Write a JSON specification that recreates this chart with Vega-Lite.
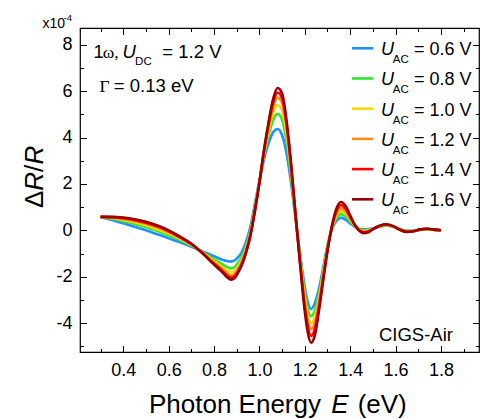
{
"$schema":"https://vega.github.io/schema/vega-lite/v6.json",
"width":399,"height":324,
"autosize":{"type":"none"},
"padding":{"left":80,"top":28,"right":1,"bottom":67},
"config":{"view":{"stroke":"#000","strokeWidth":1.2},"font":"Liberation Sans","text":{"font":"Liberation Sans","color":"#000"}},
"datasets":{
"curves":[
{"s":"0.6","x":0.3,"y":0.57},{"s":"0.6","x":0.35,"y":0.45},{"s":"0.6","x":0.4,"y":0.3},{"s":"0.6","x":0.45,"y":0.15},{"s":"0.6","x":0.5,"y":0},{"s":"0.6","x":0.55,"y":-0.17},{"s":"0.6","x":0.6,"y":-0.34},{"s":"0.6","x":0.65,"y":-0.52},{"s":"0.6","x":0.7,"y":-0.71},{"s":"0.6","x":0.75,"y":-0.91},{"s":"0.6","x":0.8,"y":-1.12},{"s":"0.6","x":0.84,"y":-1.28},{"s":"0.6","x":0.86,"y":-1.33},{"s":"0.6","x":0.875,"y":-1.35},{"s":"0.6","x":0.89,"y":-1.3},{"s":"0.6","x":0.9,"y":-1.22},{"s":"0.6","x":0.92,"y":-0.98},{"s":"0.6","x":0.94,"y":-0.52},{"s":"0.6","x":0.96,"y":0.15},{"s":"0.6","x":0.98,"y":1.15},{"s":"0.6","x":1.0,"y":2.15},{"s":"0.6","x":1.02,"y":3.05},{"s":"0.6","x":1.04,"y":3.75},{"s":"0.6","x":1.06,"y":4.22},{"s":"0.6","x":1.08,"y":4.37},{"s":"0.6","x":1.1,"y":4.1},{"s":"0.6","x":1.12,"y":3.3},{"s":"0.6","x":1.14,"y":2.0},{"s":"0.6","x":1.16,"y":0.45},{"s":"0.6","x":1.18,"y":-1.1},{"s":"0.6","x":1.2,"y":-2.45},{"s":"0.6","x":1.212,"y":-3.05},{"s":"0.6","x":1.228,"y":-3.4},{"s":"0.6","x":1.245,"y":-3.12},{"s":"0.6","x":1.265,"y":-2.4},{"s":"0.6","x":1.285,"y":-1.4},{"s":"0.6","x":1.3,"y":-0.65},{"s":"0.6","x":1.32,"y":0.05},{"s":"0.6","x":1.34,"y":0.42},{"s":"0.6","x":1.36,"y":0.55},{"s":"0.6","x":1.38,"y":0.46},{"s":"0.6","x":1.4,"y":0.3},{"s":"0.6","x":1.42,"y":0.16},{"s":"0.6","x":1.44,"y":0.07},{"s":"0.6","x":1.46,"y":0.04},{"s":"0.6","x":1.48,"y":0.05},{"s":"0.6","x":1.5,"y":0.09},{"s":"0.6","x":1.53,"y":0.16},{"s":"0.6","x":1.56,"y":0.2},{"s":"0.6","x":1.59,"y":0.15},{"s":"0.6","x":1.62,"y":0.05},{"s":"0.6","x":1.65,"y":-0.02},{"s":"0.6","x":1.68,"y":-0.02},{"s":"0.6","x":1.71,"y":0.03},{"s":"0.6","x":1.74,"y":0.05},{"s":"0.6","x":1.77,"y":0.02},{"s":"0.6","x":1.8,"y":0},
{"s":"0.8","x":0.3,"y":0.57},{"s":"0.8","x":0.35,"y":0.5},{"s":"0.8","x":0.4,"y":0.39},{"s":"0.8","x":0.45,"y":0.27},{"s":"0.8","x":0.5,"y":0.14},{"s":"0.8","x":0.55,"y":-0.03},{"s":"0.8","x":0.6,"y":-0.21},{"s":"0.8","x":0.65,"y":-0.43},{"s":"0.8","x":0.7,"y":-0.66},{"s":"0.8","x":0.75,"y":-0.94},{"s":"0.8","x":0.8,"y":-1.25},{"s":"0.8","x":0.84,"y":-1.49},{"s":"0.8","x":0.86,"y":-1.6},{"s":"0.8","x":0.875,"y":-1.64},{"s":"0.8","x":0.89,"y":-1.59},{"s":"0.8","x":0.9,"y":-1.48},{"s":"0.8","x":0.92,"y":-1.19},{"s":"0.8","x":0.94,"y":-0.7},{"s":"0.8","x":0.96,"y":0},{"s":"0.8","x":0.98,"y":1.03},{"s":"0.8","x":1.0,"y":2.11},{"s":"0.8","x":1.02,"y":3.2},{"s":"0.8","x":1.04,"y":4.08},{"s":"0.8","x":1.06,"y":4.75},{"s":"0.8","x":1.08,"y":5.03},{"s":"0.8","x":1.1,"y":4.77},{"s":"0.8","x":1.12,"y":3.82},{"s":"0.8","x":1.14,"y":2.26},{"s":"0.8","x":1.16,"y":0.5},{"s":"0.8","x":1.18,"y":-1.2},{"s":"0.8","x":1.2,"y":-2.68},{"s":"0.8","x":1.212,"y":-3.34},{"s":"0.8","x":1.228,"y":-3.72},{"s":"0.8","x":1.245,"y":-3.42},{"s":"0.8","x":1.265,"y":-2.6},{"s":"0.8","x":1.285,"y":-1.51},{"s":"0.8","x":1.3,"y":-0.71},{"s":"0.8","x":1.32,"y":0.08},{"s":"0.8","x":1.34,"y":0.54},{"s":"0.8","x":1.36,"y":0.7},{"s":"0.8","x":1.38,"y":0.59},{"s":"0.8","x":1.4,"y":0.38},{"s":"0.8","x":1.42,"y":0.18},{"s":"0.8","x":1.44,"y":0.05},{"s":"0.8","x":1.46,"y":0},{"s":"0.8","x":1.48,"y":0.02},{"s":"0.8","x":1.5,"y":0.08},{"s":"0.8","x":1.53,"y":0.17},{"s":"0.8","x":1.56,"y":0.21},{"s":"0.8","x":1.59,"y":0.16},{"s":"0.8","x":1.62,"y":0.04},{"s":"0.8","x":1.65,"y":-0.03},{"s":"0.8","x":1.68,"y":-0.02},{"s":"0.8","x":1.71,"y":0.03},{"s":"0.8","x":1.74,"y":0.05},{"s":"0.8","x":1.77,"y":0.02},{"s":"0.8","x":1.8,"y":0},
{"s":"1.0","x":0.3,"y":0.58},{"s":"1.0","x":0.35,"y":0.53},{"s":"1.0","x":0.4,"y":0.45},{"s":"1.0","x":0.45,"y":0.35},{"s":"1.0","x":0.5,"y":0.22},{"s":"1.0","x":0.55,"y":0.05},{"s":"1.0","x":0.6,"y":-0.14},{"s":"1.0","x":0.65,"y":-0.37},{"s":"1.0","x":0.7,"y":-0.63},{"s":"1.0","x":0.75,"y":-0.96},{"s":"1.0","x":0.8,"y":-1.33},{"s":"1.0","x":0.84,"y":-1.61},{"s":"1.0","x":0.86,"y":-1.76},{"s":"1.0","x":0.875,"y":-1.81},{"s":"1.0","x":0.89,"y":-1.75},{"s":"1.0","x":0.9,"y":-1.64},{"s":"1.0","x":0.92,"y":-1.32},{"s":"1.0","x":0.94,"y":-0.8},{"s":"1.0","x":0.96,"y":-0.09},{"s":"1.0","x":0.98,"y":0.96},{"s":"1.0","x":1.0,"y":2.09},{"s":"1.0","x":1.02,"y":3.29},{"s":"1.0","x":1.04,"y":4.28},{"s":"1.0","x":1.06,"y":5.06},{"s":"1.0","x":1.08,"y":5.41},{"s":"1.0","x":1.1,"y":5.16},{"s":"1.0","x":1.12,"y":4.13},{"s":"1.0","x":1.14,"y":2.43},{"s":"1.0","x":1.16,"y":0.53},{"s":"1.0","x":1.18,"y":-1.29},{"s":"1.0","x":1.2,"y":-2.89},{"s":"1.0","x":1.212,"y":-3.6},{"s":"1.0","x":1.228,"y":-4.01},{"s":"1.0","x":1.245,"y":-3.7},{"s":"1.0","x":1.265,"y":-2.78},{"s":"1.0","x":1.285,"y":-1.61},{"s":"1.0","x":1.3,"y":-0.76},{"s":"1.0","x":1.32,"y":0.11},{"s":"1.0","x":1.34,"y":0.64},{"s":"1.0","x":1.36,"y":0.83},{"s":"1.0","x":1.38,"y":0.71},{"s":"1.0","x":1.4,"y":0.45},{"s":"1.0","x":1.42,"y":0.2},{"s":"1.0","x":1.44,"y":0.03},{"s":"1.0","x":1.46,"y":-0.03},{"s":"1.0","x":1.48,"y":0},{"s":"1.0","x":1.5,"y":0.07},{"s":"1.0","x":1.53,"y":0.18},{"s":"1.0","x":1.56,"y":0.23},{"s":"1.0","x":1.59,"y":0.16},{"s":"1.0","x":1.62,"y":0.04},{"s":"1.0","x":1.65,"y":-0.04},{"s":"1.0","x":1.68,"y":-0.03},{"s":"1.0","x":1.71,"y":0.03},{"s":"1.0","x":1.74,"y":0.06},{"s":"1.0","x":1.77,"y":0.02},{"s":"1.0","x":1.8,"y":0},
{"s":"1.2","x":0.3,"y":0.58},{"s":"1.2","x":0.35,"y":0.55},{"s":"1.2","x":0.4,"y":0.49},{"s":"1.2","x":0.45,"y":0.4},{"s":"1.2","x":0.5,"y":0.28},{"s":"1.2","x":0.55,"y":0.12},{"s":"1.2","x":0.6,"y":-0.08},{"s":"1.2","x":0.65,"y":-0.33},{"s":"1.2","x":0.7,"y":-0.61},{"s":"1.2","x":0.75,"y":-0.98},{"s":"1.2","x":0.8,"y":-1.4},{"s":"1.2","x":0.84,"y":-1.71},{"s":"1.2","x":0.86,"y":-1.88},{"s":"1.2","x":0.875,"y":-1.95},{"s":"1.2","x":0.89,"y":-1.89},{"s":"1.2","x":0.9,"y":-1.77},{"s":"1.2","x":0.92,"y":-1.42},{"s":"1.2","x":0.94,"y":-0.89},{"s":"1.2","x":0.96,"y":-0.16},{"s":"1.2","x":0.98,"y":0.9},{"s":"1.2","x":1.0,"y":2.07},{"s":"1.2","x":1.02,"y":3.36},{"s":"1.2","x":1.04,"y":4.44},{"s":"1.2","x":1.06,"y":5.32},{"s":"1.2","x":1.08,"y":5.73},{"s":"1.2","x":1.1,"y":5.49},{"s":"1.2","x":1.12,"y":4.38},{"s":"1.2","x":1.14,"y":2.59},{"s":"1.2","x":1.16,"y":0.55},{"s":"1.2","x":1.18,"y":-1.37},{"s":"1.2","x":1.2,"y":-3.09},{"s":"1.2","x":1.212,"y":-3.84},{"s":"1.2","x":1.228,"y":-4.28},{"s":"1.2","x":1.245,"y":-3.96},{"s":"1.2","x":1.265,"y":-2.95},{"s":"1.2","x":1.285,"y":-1.71},{"s":"1.2","x":1.3,"y":-0.8},{"s":"1.2","x":1.32,"y":0.14},{"s":"1.2","x":1.34,"y":0.74},{"s":"1.2","x":1.36,"y":0.96},{"s":"1.2","x":1.38,"y":0.82},{"s":"1.2","x":1.4,"y":0.51},{"s":"1.2","x":1.42,"y":0.21},{"s":"1.2","x":1.44,"y":0.02},{"s":"1.2","x":1.46,"y":-0.06},{"s":"1.2","x":1.48,"y":-0.03},{"s":"1.2","x":1.5,"y":0.06},{"s":"1.2","x":1.53,"y":0.18},{"s":"1.2","x":1.56,"y":0.24},{"s":"1.2","x":1.59,"y":0.17},{"s":"1.2","x":1.62,"y":0.03},{"s":"1.2","x":1.65,"y":-0.05},{"s":"1.2","x":1.68,"y":-0.03},{"s":"1.2","x":1.71,"y":0.04},{"s":"1.2","x":1.74,"y":0.06},{"s":"1.2","x":1.77,"y":0.03},{"s":"1.2","x":1.8,"y":0},
{"s":"1.4","x":0.3,"y":0.58},{"s":"1.4","x":0.35,"y":0.57},{"s":"1.4","x":0.4,"y":0.52},{"s":"1.4","x":0.45,"y":0.44},{"s":"1.4","x":0.5,"y":0.33},{"s":"1.4","x":0.55,"y":0.17},{"s":"1.4","x":0.6,"y":-0.04},{"s":"1.4","x":0.65,"y":-0.3},{"s":"1.4","x":0.7,"y":-0.59},{"s":"1.4","x":0.75,"y":-0.99},{"s":"1.4","x":0.8,"y":-1.44},{"s":"1.4","x":0.84,"y":-1.78},{"s":"1.4","x":0.86,"y":-1.97},{"s":"1.4","x":0.875,"y":-2.04},{"s":"1.4","x":0.89,"y":-1.99},{"s":"1.4","x":0.9,"y":-1.85},{"s":"1.4","x":0.92,"y":-1.49},{"s":"1.4","x":0.94,"y":-0.95},{"s":"1.4","x":0.96,"y":-0.21},{"s":"1.4","x":0.98,"y":0.86},{"s":"1.4","x":1.0,"y":2.06},{"s":"1.4","x":1.02,"y":3.41},{"s":"1.4","x":1.04,"y":4.55},{"s":"1.4","x":1.06,"y":5.49},{"s":"1.4","x":1.08,"y":5.95},{"s":"1.4","x":1.1,"y":5.7},{"s":"1.4","x":1.12,"y":4.55},{"s":"1.4","x":1.14,"y":2.72},{"s":"1.4","x":1.16,"y":0.58},{"s":"1.4","x":1.18,"y":-1.46},{"s":"1.4","x":1.2,"y":-3.29},{"s":"1.4","x":1.212,"y":-4.09},{"s":"1.4","x":1.228,"y":-4.56},{"s":"1.4","x":1.245,"y":-4.22},{"s":"1.4","x":1.265,"y":-3.12},{"s":"1.4","x":1.285,"y":-1.8},{"s":"1.4","x":1.3,"y":-0.85},{"s":"1.4","x":1.32,"y":0.17},{"s":"1.4","x":1.34,"y":0.84},{"s":"1.4","x":1.36,"y":1.09},{"s":"1.4","x":1.38,"y":0.93},{"s":"1.4","x":1.4,"y":0.58},{"s":"1.4","x":1.42,"y":0.23},{"s":"1.4","x":1.44,"y":0},{"s":"1.4","x":1.46,"y":-0.09},{"s":"1.4","x":1.48,"y":-0.05},{"s":"1.4","x":1.5,"y":0.05},{"s":"1.4","x":1.53,"y":0.19},{"s":"1.4","x":1.56,"y":0.25},{"s":"1.4","x":1.59,"y":0.17},{"s":"1.4","x":1.62,"y":0.03},{"s":"1.4","x":1.65,"y":-0.06},{"s":"1.4","x":1.68,"y":-0.04},{"s":"1.4","x":1.71,"y":0.04},{"s":"1.4","x":1.74,"y":0.07},{"s":"1.4","x":1.77,"y":0.03},{"s":"1.4","x":1.8,"y":0},
{"s":"1.6","x":0.3,"y":0.58},{"s":"1.6","x":0.35,"y":0.58},{"s":"1.6","x":0.4,"y":0.55},{"s":"1.6","x":0.45,"y":0.48},{"s":"1.6","x":0.5,"y":0.37},{"s":"1.6","x":0.55,"y":0.21},{"s":"1.6","x":0.6,"y":0},{"s":"1.6","x":0.65,"y":-0.27},{"s":"1.6","x":0.7,"y":-0.58},{"s":"1.6","x":0.75,"y":-1.0},{"s":"1.6","x":0.8,"y":-1.48},{"s":"1.6","x":0.84,"y":-1.84},{"s":"1.6","x":0.86,"y":-2.05},{"s":"1.6","x":0.875,"y":-2.13},{"s":"1.6","x":0.89,"y":-2.07},{"s":"1.6","x":0.9,"y":-1.93},{"s":"1.6","x":0.92,"y":-1.55},{"s":"1.6","x":0.94,"y":-1.0},{"s":"1.6","x":0.96,"y":-0.25},{"s":"1.6","x":0.98,"y":0.82},{"s":"1.6","x":1.0,"y":2.05},{"s":"1.6","x":1.02,"y":3.45},{"s":"1.6","x":1.04,"y":4.65},{"s":"1.6","x":1.06,"y":5.65},{"s":"1.6","x":1.08,"y":6.14},{"s":"1.6","x":1.1,"y":5.9},{"s":"1.6","x":1.12,"y":4.7},{"s":"1.6","x":1.14,"y":2.85},{"s":"1.6","x":1.16,"y":0.6},{"s":"1.6","x":1.18,"y":-1.55},{"s":"1.6","x":1.2,"y":-3.5},{"s":"1.6","x":1.212,"y":-4.35},{"s":"1.6","x":1.228,"y":-4.85},{"s":"1.6","x":1.245,"y":-4.5},{"s":"1.6","x":1.265,"y":-3.3},{"s":"1.6","x":1.285,"y":-1.9},{"s":"1.6","x":1.3,"y":-0.9},{"s":"1.6","x":1.32,"y":0.2},{"s":"1.6","x":1.34,"y":0.95},{"s":"1.6","x":1.36,"y":1.22},{"s":"1.6","x":1.38,"y":1.05},{"s":"1.6","x":1.4,"y":0.65},{"s":"1.6","x":1.42,"y":0.25},{"s":"1.6","x":1.44,"y":-0.02},{"s":"1.6","x":1.46,"y":-0.12},{"s":"1.6","x":1.48,"y":-0.08},{"s":"1.6","x":1.5,"y":0.04},{"s":"1.6","x":1.53,"y":0.2},{"s":"1.6","x":1.56,"y":0.26},{"s":"1.6","x":1.59,"y":0.18},{"s":"1.6","x":1.62,"y":0.02},{"s":"1.6","x":1.65,"y":-0.07},{"s":"1.6","x":1.68,"y":-0.04},{"s":"1.6","x":1.71,"y":0.04},{"s":"1.6","x":1.74,"y":0.07},{"s":"1.6","x":1.77,"y":0.03},{"s":"1.6","x":1.8,"y":0}
],
"leg":[{"s":"0.6","t":"= 0.6 V","y":7.855},{"s":"0.8","t":"= 0.8 V","y":6.552},{"s":"1.0","t":"= 1.0 V","y":5.248},{"s":"1.2","t":"= 1.2 V","y":3.945},{"s":"1.4","t":"= 1.4 V","y":2.641},{"s":"1.6","t":"= 1.6 V","y":1.338}]
},
"layer":[
{"data":{"name":"curves"},
 "mark":{"type":"line","strokeWidth":2.6,"interpolate":"monotone"},
 "encoding":{
  "x":{"field":"x","type":"quantitative","scale":{"domain":[0.209,1.968],"nice":false,"zero":false},
       "axis":{"orient":"bottom","values":[0.4,0.6,0.8,1.0,1.2,1.4,1.6,1.8],"format":".1f","ticks":false,"domain":false,"grid":false,"labelFontSize":18,"labelPadding":9,"labelColor":"#000","labelFont":"Liberation Sans","labelFlush":false,"labelOverlap":false,"title":null}},
  "y":{"field":"y","type":"quantitative","scale":{"domain":[-5.25,8.73],"nice":false,"zero":false},
       "axis":{"orient":"left","values":[-4,-2,0,2,4,6,8],"labelExpr":"datum.value < 0 ? '-' + abs(datum.value) : '' + datum.value","ticks":false,"domain":false,"grid":false,"labelFontSize":18,"labelPadding":8,"labelColor":"#000","labelFont":"Liberation Sans","labelFlush":false,"labelOverlap":false,"title":null}},
  "color":{"field":"s","type":"nominal","scale":{"domain":["0.6","0.8","1.0","1.2","1.4","1.6"],"range":["#1E90FF","#2EE62E","#FFD700","#FF8C1A","#FF0000","#9B0000"]},"legend":null}
 }},
{"data":{"values":[{"t":"1","x":0.268,"y":7.415},{"t":"= 1.2 V","x":0.572,"y":7.415},{"t":"= 0.13 eV","x":0.358,"y":5.982},{"t":"CIGS-Air","x":1.527,"y":-4.765}]},
 "mark":{"type":"text","fontSize":18.5,"align":"left","baseline":"alphabetic"},
 "encoding":{
  "x":{"field":"x","type":"quantitative","scale":{"domain":[0.209,1.968],"nice":false,"zero":false},
       "axis":{"orient":"bottom","values":[0.4,0.6,0.8,1.0,1.2,1.4,1.6,1.8],"labels":false,"domain":false,"grid":false,"ticks":true,"tickSize":-6.5,"tickColor":"#000","tickWidth":1,"title":null}},
  "y":{"field":"y","type":"quantitative","scale":{"domain":[-5.25,8.73],"nice":false,"zero":false},
       "axis":{"orient":"left","values":[-4,-2,0,2,4,6,8],"labels":false,"domain":false,"grid":false,"ticks":true,"tickSize":-6.5,"tickColor":"#000","tickWidth":1,"title":null}},
  "text":{"field":"t"}
 }},
{"data":{"values":[{"t":"ω,","x":0.309,"y":7.415},{"t":"Γ","x":0.295,"y":5.982}]},
 "mark":{"type":"text","fontSize":17.5,"font":"Liberation Serif","align":"left","baseline":"alphabetic"},
 "encoding":{
  "x":{"field":"x","type":"quantitative","scale":{"domain":[0.209,1.968],"nice":false,"zero":false},
       "axis":{"orient":"bottom","values":[0.3,0.5,0.7,0.9,1.1,1.3,1.5,1.7,1.9],"labels":false,"domain":false,"grid":false,"ticks":true,"tickSize":-3.5,"tickColor":"#000","tickWidth":1,"title":null}},
  "y":{"field":"y","type":"quantitative","scale":{"domain":[-5.25,8.73],"nice":false,"zero":false},
       "axis":{"orient":"left","values":[-5,-3,-1,1,3,5,7],"labels":false,"domain":false,"grid":false,"ticks":true,"tickSize":-3.5,"tickColor":"#000","tickWidth":1,"title":null}},
  "text":{"field":"t"}
 }},
{"data":{"values":[{"t":"U","x":0.396,"y":7.415}]},
 "mark":{"type":"text","fontSize":18.5,"fontStyle":"italic","align":"left","baseline":"alphabetic"},
 "encoding":{
  "x":{"field":"x","type":"quantitative","scale":{"domain":[0.209,1.968],"nice":false,"zero":false},
       "axis":{"orient":"top","values":[0.4,0.6,0.8,1.0,1.2,1.4,1.6,1.8],"labels":false,"domain":false,"grid":false,"ticks":true,"tickSize":-6.5,"tickColor":"#000","tickWidth":1,"title":null}},
  "y":{"field":"y","type":"quantitative","scale":{"domain":[-5.25,8.73],"nice":false,"zero":false},
       "axis":{"orient":"right","values":[-4,-2,0,2,4,6,8],"labels":false,"domain":false,"grid":false,"ticks":true,"tickSize":-6.5,"tickColor":"#000","tickWidth":1,"title":null}},
  "text":{"field":"t"}
 }},
{"data":{"values":[{"t":"DC","x":0.452,"y":7.134}]},
 "mark":{"type":"text","fontSize":11.5,"align":"left","baseline":"alphabetic"},
 "encoding":{
  "x":{"field":"x","type":"quantitative","scale":{"domain":[0.209,1.968],"nice":false,"zero":false},
       "axis":{"orient":"top","values":[0.3,0.5,0.7,0.9,1.1,1.3,1.5,1.7,1.9],"labels":false,"domain":false,"grid":false,"ticks":true,"tickSize":-3.5,"tickColor":"#000","tickWidth":1,"title":null}},
  "y":{"field":"y","type":"quantitative","scale":{"domain":[-5.25,8.73],"nice":false,"zero":false},
       "axis":{"orient":"right","values":[-5,-3,-1,1,3,5,7],"labels":false,"domain":false,"grid":false,"ticks":true,"tickSize":-3.5,"tickColor":"#000","tickWidth":1,"title":null}},
  "text":{"field":"t"}
 }},
{"data":{"name":"leg"},
 "mark":{"type":"rule","strokeWidth":2.6},
 "encoding":{
  "x":{"datum":1.408,"type":"quantitative","axis":null},
  "x2":{"datum":1.502},
  "y":{"field":"y","type":"quantitative","axis":null},
  "color":{"field":"s","type":"nominal","legend":null}
 }},
{"data":{"name":"leg"},
 "mark":{"type":"text","fontSize":18,"fontStyle":"italic","align":"left","baseline":"alphabetic","dy":7},
 "encoding":{
  "x":{"datum":1.536,"type":"quantitative","axis":null},
  "y":{"field":"y","type":"quantitative","axis":null},
  "text":{"value":"U"}
 }},
{"data":{"name":"leg"},
 "mark":{"type":"text","fontSize":11.5,"align":"left","baseline":"alphabetic","dy":15},
 "encoding":{
  "x":{"datum":1.588,"type":"quantitative","axis":null},
  "y":{"field":"y","type":"quantitative","axis":null},
  "text":{"value":"AC"}
 }},
{"data":{"name":"leg"},
 "mark":{"type":"text","fontSize":18,"align":"left","baseline":"alphabetic","dy":7},
 "encoding":{
  "x":{"datum":1.681,"type":"quantitative","axis":null},
  "y":{"field":"y","type":"quantitative","axis":null},
  "text":{"field":"t"}
 }},
{"data":{"values":[{"t":"Δ","y":0.96},{"t":"/","y":2.52}]},
 "mark":{"type":"text","fontSize":26,"angle":-90,"align":"left","baseline":"alphabetic"},
 "encoding":{
  "x":{"datum":0.046,"type":"quantitative","axis":null},
  "y":{"field":"y","type":"quantitative","axis":null},
  "text":{"field":"t"}
 }},
{"data":{"values":[{"t":"R","y":1.71},{"t":"R","y":2.84}]},
 "mark":{"type":"text","fontSize":26,"fontStyle":"italic","angle":-90,"align":"left","baseline":"alphabetic"},
 "encoding":{
  "x":{"datum":0.046,"type":"quantitative","axis":null},
  "y":{"field":"y","type":"quantitative","axis":null},
  "text":{"field":"t"}
 }},
{"data":{"values":[{"t":"Photon Energy","x":0.513},{"t":"(eV)","x":1.433}]},
 "mark":{"type":"text","fontSize":26,"align":"left","baseline":"alphabetic"},
 "encoding":{
  "x":{"field":"x","type":"quantitative","axis":null},
  "y":{"datum":-7.885,"type":"quantitative","axis":null},
  "text":{"field":"t"}
 }},
{"data":{"values":[{"t":"E","x":1.317}]},
 "mark":{"type":"text","fontSize":26,"fontStyle":"italic","align":"left","baseline":"alphabetic"},
 "encoding":{
  "x":{"field":"x","type":"quantitative","axis":null},
  "y":{"datum":-7.885,"type":"quantitative","axis":null},
  "text":{"field":"t"}
 }},
{"data":{"values":[{"t":"x10","x":0.044,"y":8.718}]},
 "mark":{"type":"text","fontSize":14,"align":"left","baseline":"alphabetic"},
 "encoding":{
  "x":{"field":"x","type":"quantitative","axis":null},
  "y":{"field":"y","type":"quantitative","axis":null},
  "text":{"field":"t"}
 }},
{"data":{"values":[{"t":"-4","x":0.137,"y":9.02}]},
 "mark":{"type":"text","fontSize":9.5,"align":"left","baseline":"alphabetic"},
 "encoding":{
  "x":{"field":"x","type":"quantitative","axis":null},
  "y":{"field":"y","type":"quantitative","axis":null},
  "text":{"field":"t"}
 }}
],
"resolve":{"axis":{"x":"independent","y":"independent"}}
}
